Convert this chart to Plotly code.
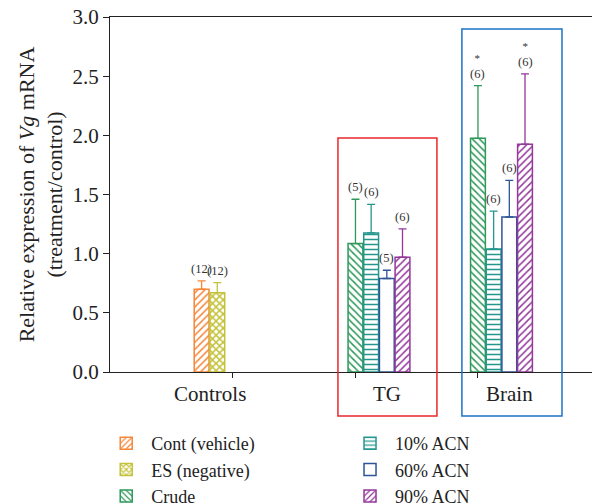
import plotly.graph_objects as go

# ---------------- data ----------------
groups = ["Controls", "TG", "Brain"]
series_names = ["Cont (vehicle)", "ES (negative)", "Crude", "10% ACN", "60% ACN", "90% ACN"]

cont_mean = [0.70, None, None]
cont_err = [0.07, None, None]
cont_n = ["(12)", "", ""]

es_mean = [0.67, None, None]
es_err = [0.085, None, None]
es_n = ["(12)", "", ""]

crude_mean = [None, 1.085, 1.975]
crude_err = [None, 0.375, 0.445]
crude_n = ["", "(5)", "(6)"]
crude_sig = ["", "", "*"]

acn10_mean = [None, 1.175, 1.04]
acn10_err = [None, 0.242, 0.32]
acn10_n = ["", "(6)", "(6)"]

acn60_mean = [None, 0.79, 1.31]
acn60_err = [None, 0.07, 0.31]
acn60_n = ["", "(5)", "(6)"]

acn90_mean = [None, 0.97, 1.925]
acn90_err = [None, 0.24, 0.595]
acn90_n = ["", "(6)", "(6)"]
acn90_sig = ["", "", "*"]

y_ticks = [0.0, 0.5, 1.0, 1.5, 2.0, 2.5, 3.0]

# ---------------- styles ----------------
colors = ["#F5873A", "#C3C23A", "#2E995A", "#25968D", "#2D5597", "#94399B"]
patterns = ["/", "x", "\\", "-", "", "/"]
solid = [0.3, 0.5, 0.3, 0.3, 0.3, 0.3]
legend_ids = ["legend", "legend", "legend", "legend2", "legend2", "legend2"]
FONT = "Liberation Serif"

means = [cont_mean, es_mean, crude_mean, acn10_mean, acn60_mean, acn90_mean]
errs = [cont_err, es_err, crude_err, acn10_err, acn60_err, acn90_err]
ns = [cont_n, es_n, crude_n, acn10_n, acn60_n, acn90_n]
sigs = [None, None, crude_sig, None, None, acn90_sig]

slot = 0.128      # slot width in category units
bar_w = 0.121

fig = go.Figure()
annotations = []
for k, name in enumerate(series_names):
    xs, ys, es, txt = [], [], [], []
    for g in range(len(groups)):
        if means[k][g] is None:
            continue
        xs.append(g + (k - 2) * slot)
        ys.append(means[k][g])
        es.append(errs[k][g])
        t = ns[k][g]
        if sigs[k] and sigs[k][g]:
            t = "<span style='font-size:11px'>" + sigs[k][g] + "</span><br>" + t
        txt.append(t)
    fig.add_trace(go.Bar(
        x=xs, y=ys, width=bar_w, name=name, legend=legend_ids[k],
        marker=dict(color="white", line=dict(color=colors[k], width=1.5),
                    pattern=dict(shape=patterns[k], fgcolor=colors[k], bgcolor="white",
                                 fillmode="replace", size=5, solidity=solid[k])),
        error_y=dict(type="data", array=es, symmetric=False, arrayminus=[0] * len(es),
                     color=colors[k], thickness=1.3, width=4),
    ))
    for x, y, e, t in zip(xs, ys, es, txt):
        if t:
            annotations.append(dict(x=x, y=y + e, text=t, showarrow=False, yanchor="bottom",
                                    yshift=3, font=dict(family=FONT, size=12.5, color="#333")))

# category labels below axis
label_x = [-0.19, 1.257, 2.257]
for g, lab in enumerate(groups):
    annotations.append(dict(x=label_x[g], y=-0.062, xref="x", yref="paper", text=lab,
                            showarrow=False, yanchor="middle",
                            font=dict(family=FONT, size=21, color="#222")))

shapes = [
    dict(type="rect", xref="x", yref="paper", x0=0.857, x1=1.665, y0=-0.124, y1=0.659,
         line=dict(color="#E8282C", width=1.5)),
    dict(type="rect", xref="x", yref="paper", x0=1.869, x1=2.686, y0=-0.124, y1=0.966,
         line=dict(color="#1B73C8", width=1.5)),
    dict(type="line", xref="paper", yref="paper", x0=1, x1=1, y0=0, y1=1,
         line=dict(color="#AAAAAA", width=1)),
]

legend_common = dict(orientation="v", xref="paper", yref="paper", xanchor="left",
                     yanchor="top", itemwidth=40, tracegroupgap=0,
                     bgcolor="rgba(0,0,0,0)",
                     font=dict(family=FONT, size=18, color="#222"))

fig.update_layout(
    width=600, height=504,
    margin=dict(l=102, r=10, t=9, b=140, autoexpand=False),
    plot_bgcolor="white", paper_bgcolor="white",
    barmode="overlay",
    font=dict(family=FONT, size=20, color="#222"),
    annotations=annotations, shapes=shapes,
    showlegend=True,
    legend=dict(x=-0.018, y=-0.1493, **legend_common),
    legend2=dict(x=0.4816, y=-0.1493, **legend_common),
    xaxis=dict(range=[-1.004, 2.98], tickvals=[0, 1, 2], ticktext=["", "", ""],
               automargin=False,
               ticks="outside", ticklen=5, tickcolor="#222", showline=True,
               linecolor="#222", linewidth=1.2, mirror=True, showgrid=False, zeroline=False),
    yaxis=dict(range=[0, 3], tickvals=y_ticks, tickformat=".1f", ticks="outside", ticklen=6,
               automargin=False, ticklabeloverflow="allow",
               tickcolor="#222", showline=True, linecolor="#222", linewidth=1.2,
               showgrid=False, zeroline=False, tickfont=dict(family=FONT, size=21),
               title=dict(text="Relative expression of <i>Vg</i> mRNA<br>(treatment/control)",
                          font=dict(family=FONT, size=22), standoff=3)),
)

fig.write_html("out.html")
